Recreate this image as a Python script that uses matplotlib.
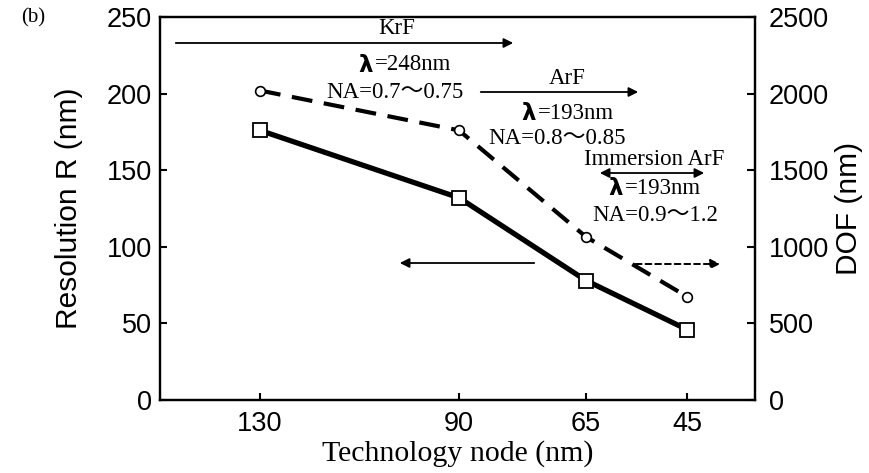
import matplotlib
matplotlib.use("Agg")
import matplotlib.pyplot as plt

# data
nodes = ["130", "90", "65", "45"]
resolution = [176, 132, 78, 46]      # nm, left axis
dof = [2020, 1760, 1065, 675]        # nm, right axis

# layout: node positions along x (arbitrary units, axis spans 0..595)
node_x = [100, 299, 426, 527]

W, H = 870, 473
fig = plt.figure(figsize=(W / 100, H / 100), dpi=100)
ax = fig.add_axes([160 / W, 1 - 400 / H, 595 / W, 383 / H])
ax2 = ax.twinx()

SANS = ["Liberation Sans", "DejaVu Sans"]
SERIF = ["Liberation Serif", "Noto Sans CJK JP", "DejaVu Serif"]

ax.plot(node_x, resolution, color="black", lw=3.8, marker="s", ms=10,
        mfc="white", mec="black", mew=1.3, zorder=3)
ax2.plot(node_x, dof, color="black", lw=3.0, ls=(0, (5, 2.8)), marker="o",
         ms=7, mfc="white", mec="black", mew=1.2, zorder=3)

ax.set_xlim(0, 595)
ax.set_ylim(0, 250)
ax2.set_ylim(0, 2500)
ax.set_xticks(node_x)
ax.set_xticklabels(nodes)
ax.set_yticks(range(0, 251, 50))
ax2.set_yticks(range(0, 2501, 500))

for a in (ax, ax2):
    for s in a.spines.values():
        s.set_linewidth(1.6)
ax.tick_params(axis="both", direction="in", length=5, width=1.5, labelsize=19.5)
ax.tick_params(axis="y", pad=6)
ax.tick_params(axis="x", pad=8)
ax2.tick_params(axis="y", direction="in", length=6, width=1.5, labelsize=19.5, pad=10)
for lab in ax.get_xticklabels() + ax.get_yticklabels() + ax2.get_yticklabels():
    lab.set_family(SANS)

ax.set_ylabel("Resolution R (nm)", family=SANS, fontsize=21.5)
ax.yaxis.set_label_coords(-0.129, 0.50)
ax2.set_ylabel("DOF (nm)", family=SANS, fontsize=21.5, rotation=90)
ax2.yaxis.set_label_coords(1.134, 0.50)
ax.set_xlabel("Technology node (nm)", family=SERIF, fontsize=21.5)
ax.xaxis.set_label_coords(0.50, -0.105)


def fx(px):
    return px / W


def fy(py):
    return 1 - py / H


def txt(x, y, s, size=16.5, ha="center"):
    fig.text(fx(x), fy(y), s, family=SERIF, fontsize=size, ha=ha, va="center")


def lam(x, y, rest):
    fig.text(fx(x), fy(y), "λ", family=["DejaVu Sans"], fontweight="bold",
             fontsize=16.5, ha="right", va="center")
    fig.text(fx(x + 2), fy(y), rest, family=SERIF, fontsize=16.5,
             ha="left", va="center")


def arrow(x0, x1, y, style="-|>", ls="-", lw=1.3):
    fig.add_artist(matplotlib.patches.FancyArrowPatch(
        (fx(x0), fy(y)), (fx(x1), fy(y)), transform=fig.transFigure,
        arrowstyle=style, mutation_scale=14, color="black", lw=lw, ls=ls))


# KrF
arrow(173, 516, 43)
txt(397, 29, "KrF")
lam(373, 65, "=248nm")
txt(395, 92, "NA=0.7〜0.75")
# ArF
arrow(478, 641, 92)
txt(567, 79, "ArF")
lam(536, 113, "=193nm")
txt(557, 138, "NA=0.8〜0.85")
# Immersion ArF
arrow(597, 707, 173, style="<|-|>")
txt(654, 159, "Immersion ArF")
lam(623, 188, "=193nm")
txt(655, 215, "NA=0.9〜1.2")
# axis pointers
arrow(537, 397, 263)
arrow(633, 723, 264, ls=(0, (3, 2)), lw=1.4)

fig.text(fx(33), fy(18), "(b)", family=SERIF, fontsize=15, ha="center", va="center")

fig.savefig("out.png", dpi=100)
